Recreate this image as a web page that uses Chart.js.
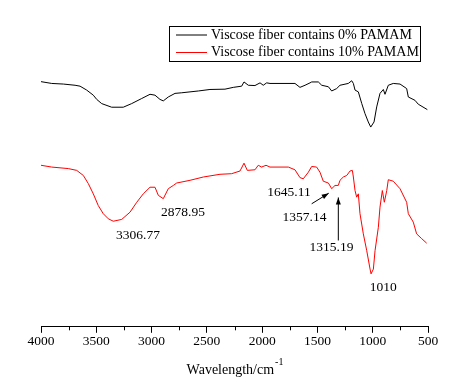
<!DOCTYPE html>
<html>
<head>
<meta charset="utf-8">
<script src="https://cdn.jsdelivr.net/npm/chart.js@4/dist/chart.umd.min.js"></script>
<style>
  html, body { margin: 0; padding: 0; background: #fff; }
  #wrap { width: 454px; height: 382px; }
</style>
</head>
<body>
<div id="wrap"><canvas id="ftirChart" width="454" height="382"></canvas></div>
<script>
// wavenumbers (cm-1) and transmittance readings for each sample
const waveBlack = [4000, 3903, 3798, 3692, 3647, 3587, 3527, 3496, 3451, 3361, 3256, 3180, 3089, 3014, 2969, 2924, 2894, 2849, 2788, 2727, 2577, 2472, 2336, 2261, 2185, 2164, 2125, 2065, 2019, 1990, 1959, 1929, 1703, 1658, 1612, 1567, 1552, 1492, 1461, 1401, 1371, 1326, 1296, 1221, 1190, 1175, 1160, 1130, 1099, 1070, 1040, 1018, 988, 964, 934, 904, 889, 859, 814, 753, 693, 678, 618, 588, 506];
const valBlack = [81.5, 80.9, 80.7, 80.3, 80.0, 78.7, 77.0, 75.6, 74.2, 73.0, 73.0, 74.2, 75.9, 77.3, 77.0, 75.6, 75.1, 76.4, 77.6, 77.8, 78.4, 78.9, 79.0, 79.6, 80.0, 81.4, 80.3, 80.2, 81.1, 80.3, 81.1, 80.9, 80.9, 79.6, 80.3, 81.1, 81.4, 81.4, 80.3, 79.8, 78.4, 79.2, 80.3, 80.9, 81.8, 80.9, 78.7, 78.1, 74.2, 70.9, 68.1, 66.4, 68.1, 73.1, 77.6, 78.9, 77.3, 80.3, 80.9, 80.7, 79.2, 76.4, 75.3, 74.0, 72.2];

const waveRed = [4000, 3903, 3753, 3677, 3617, 3572, 3527, 3482, 3437, 3391, 3346, 3270, 3195, 3134, 3075, 3014, 2969, 2939, 2894, 2849, 2803, 2773, 2652, 2532, 2381, 2276, 2200, 2164, 2134, 2065, 2035, 2005, 1965, 1929, 1763, 1703, 1658, 1628, 1582, 1552, 1507, 1477, 1447, 1401, 1371, 1341, 1311, 1296, 1266, 1235, 1205, 1184, 1175, 1160, 1145, 1130, 1115, 1085, 1054, 1024, 1015, 994, 979, 949, 934, 913, 895, 873, 859, 814, 753, 693, 678, 633, 603, 557, 512];
const valRed = [53.7, 53.1, 52.6, 52.0, 50.3, 47.6, 44.2, 40.3, 37.6, 35.9, 35.1, 35.7, 38.1, 41.4, 44.2, 46.4, 46.4, 43.7, 42.6, 45.9, 47.0, 47.8, 48.7, 49.8, 50.7, 50.9, 51.8, 54.4, 52.0, 52.2, 53.7, 53.1, 53.7, 53.1, 53.1, 52.2, 49.6, 49.2, 51.4, 53.3, 53.1, 51.4, 48.4, 47.8, 45.9, 47.0, 47.0, 48.7, 49.8, 50.3, 51.8, 52.0, 49.8, 45.3, 43.1, 44.2, 37.6, 30.9, 25.3, 19.2, 17.6, 19.2, 25.3, 33.1, 39.8, 45.3, 41.4, 45.3, 48.9, 48.4, 45.9, 41.4, 37.6, 34.8, 30.9, 29.3, 27.8];

const seriesNames = ['Viscose fiber contains 0% PAMAM', 'Viscose fiber contains 10% PAMAM'];
const xTicks = [4000, 3500, 3000, 2500, 2000, 1500, 1000, 500];

// peak labels: text, label anchor (wavenumber, T)
const peakText = ['3306.77', '2878.95', '1645.11', '1357.14', '1315.19', '1010'];
const peakLabelX = [3123, 2716, 1757, 1617, 1373, 904];
const peakLabelY = [30.3, 38.0, 44.7, 36.3, 26.3, 13.0];
// arrows: from (x1,y1) to (x2,y2) in data units
const arrowFrom = [[1552, 40.9], [1311, 28.7]];
const arrowTo = [[1398, 44.4], [1311, 43.0]];

const serif = '"Liberation Serif", "Times New Roman", serif';

function toPoints(xs, ys) {
    return xs.map((x, i) => ({ x: x, y: ys[i] }));
}

const extras = {
    id: 'extras',
    afterDraw(chart) {
        const ctx = chart.ctx;
        const xs = chart.scales.x;
        const ys = chart.scales.y;
        const bottom = chart.chartArea.bottom;
        ctx.save();

        // minor ticks
        ctx.strokeStyle = '#000';
        ctx.lineWidth = 1;
        ctx.beginPath();
        for (let v = 750; v < 4000; v += 500) {
            const px = Math.round(xs.getPixelForValue(v)) + 0.5;
            ctx.moveTo(px, bottom);
            ctx.lineTo(px, bottom + 3.5);
        }
        ctx.stroke();

        // peak labels
        ctx.fillStyle = '#000';
        ctx.font = '13.5px ' + serif;
        ctx.textAlign = 'center';
        ctx.textBaseline = 'middle';
        peakText.forEach((t, i) => {
            ctx.fillText(t, xs.getPixelForValue(peakLabelX[i]), ys.getPixelForValue(peakLabelY[i]));
        });

        // arrows
        arrowFrom.forEach((f, i) => {
            const x1 = xs.getPixelForValue(f[0]), y1 = ys.getPixelForValue(f[1]);
            const x2 = xs.getPixelForValue(arrowTo[i][0]), y2 = ys.getPixelForValue(arrowTo[i][1]);
            const a = Math.atan2(y2 - y1, x2 - x1);
            ctx.beginPath();
            ctx.moveTo(x1, y1);
            ctx.lineTo(x2, y2);
            ctx.stroke();
            ctx.beginPath();
            ctx.moveTo(x2, y2);
            ctx.lineTo(x2 - 7 * Math.cos(a) + 2.5 * Math.sin(a), y2 - 7 * Math.sin(a) - 2.5 * Math.cos(a));
            ctx.lineTo(x2 - 7 * Math.cos(a) - 2.5 * Math.sin(a), y2 - 7 * Math.sin(a) + 2.5 * Math.cos(a));
            ctx.closePath();
            ctx.fill();
        });

        // axis title with superscript
        ctx.font = '14px ' + serif;
        ctx.textAlign = 'left';
        ctx.textBaseline = 'middle';
        const main = 'Wavelength/cm';
        const w = ctx.measureText(main).width;
        ctx.font = '10px ' + serif;
        const sw = ctx.measureText('-1').width;
        const cx = (chart.chartArea.left + chart.chartArea.right) / 2;
        const sx = cx - (w + sw) / 2;
        ctx.font = '14px ' + serif;
        ctx.fillText(main, sx, 370);
        ctx.font = '10px ' + serif;
        ctx.fillText('-1', sx + w + 1, 362);

        // legend box
        ctx.strokeRect(169.5, 26.5, 251, 35);
        ctx.font = '14px ' + serif;
        chart.data.datasets.forEach((ds, i) => {
            const ly = 35 + i * 17.5;
            ctx.strokeStyle = ds.borderColor;
            ctx.beginPath();
            ctx.moveTo(176, ly);
            ctx.lineTo(207, ly);
            ctx.stroke();
            ctx.fillStyle = '#000';
            ctx.fillText(ds.label, 211, ly);
        });
        ctx.restore();
    }
};

new Chart(document.getElementById('ftirChart').getContext('2d'), {
    type: 'line',
    data: {
        datasets: [
            { label: seriesNames[0], data: toPoints(waveBlack, valBlack), borderColor: '#000000' },
            { label: seriesNames[1], data: toPoints(waveRed, valRed), borderColor: '#ff0000' }
        ]
    },
    options: {
        responsive: false,
        animation: false,
        layout: { padding: { left: 41, right: 26, top: 26, bottom: 31 } },
        elements: {
            line: { borderWidth: 1, tension: 0 },
            point: { radius: 0 }
        },
        plugins: { legend: { display: false }, tooltip: { enabled: false } },
        scales: {
            x: {
                type: 'linear',
                reverse: true,
                min: 500,
                max: 4000,
                afterBuildTicks: (s) => { s.ticks = xTicks.map(v => ({ value: v })); },
                ticks: {
                    color: '#000',
                    padding: 1,
                    maxRotation: 0,
                    font: { family: serif, size: 13.5 },
                    callback: (v) => String(v)
                },
                grid: { drawOnChartArea: false, drawTicks: true, tickLength: 6, color: '#000' },
                border: { display: true, color: '#000', width: 1 }
            },
            y: { display: false, min: 0, max: 100 }
        }
    },
    plugins: [extras]
});
</script>
</body>
</html>
